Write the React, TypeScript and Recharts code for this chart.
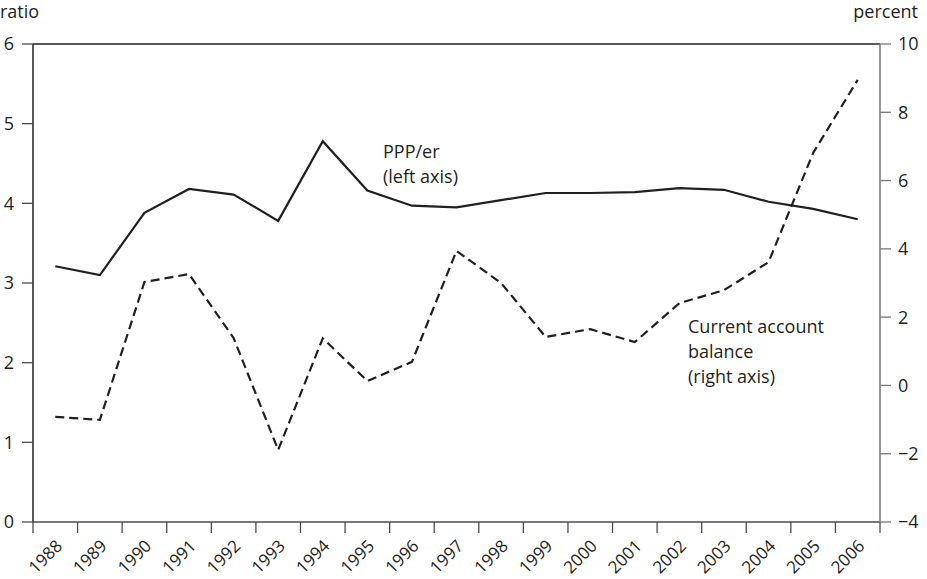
import React from 'react';
import { LineChart, Line, XAxis, YAxis, ReferenceLine } from 'recharts';

const years = ['1988','1989','1990','1991','1992','1993','1994','1995','1996','1997','1998','1999','2000','2001','2002','2003','2004','2005','2006'];
const pppEr = [3.21, 3.10, 3.88, 4.18, 4.11, 3.78, 4.78, 4.16, 3.97, 3.95, 4.04, 4.13, 4.13, 4.14, 4.19, 4.17, 4.02, 3.93, 3.80];
const currentAccount = [-0.92, -1.01, 3.03, 3.26, 1.39, -1.89, 1.38, 0.13, 0.69, 3.94, 3.0, 1.42, 1.65, 1.27, 2.41, 2.79, 3.61, 6.81, 8.95];
const leftTicks = [0, 1, 2, 3, 4, 5, 6];
const rightTicks = [-4, -2, 0, 2, 4, 6, 8, 10];

const data = years.map((year, i) => ({ year, ppp: pppEr[i], ca: currentAccount[i] }));

const W = 927;
const H = 579;
const PLOT_LEFT = 33;
const PLOT_RIGHT = 880;
const PLOT_TOP = 44;
const PLOT_BOTTOM = 522;
const BAND = (PLOT_RIGHT - PLOT_LEFT) / years.length;
const FONT = '"Open Sans", sans-serif';
const TEXT = '#231f20';

function XTick(props: any) {
  const { x, payload, index } = props;
  const half = BAND / 2;
  const ax = x + 8;
  const ay = PLOT_BOTTOM + 25;
  return (
    <g>
      <line x1={x - half} y1={PLOT_BOTTOM} x2={x - half} y2={PLOT_BOTTOM + 11} stroke="#4d4d4f" strokeWidth={1.3} />
      {index === years.length - 1 && (
        <line x1={x + half} y1={PLOT_BOTTOM} x2={x + half} y2={PLOT_BOTTOM + 11} stroke="#4d4d4f" strokeWidth={1.3} />
      )}
      <text x={ax} y={ay} transform={`rotate(-45, ${ax}, ${ay})`} textAnchor="end" fontFamily={FONT} fontSize={17} fill={TEXT}>
        {payload.value}
      </text>
    </g>
  );
}

const fmtMinus = (v: number) => String(v).replace('-', '\u2212');

export default function App() {
  return (
    <div style={{ position: 'absolute', left: 0, top: 0, width: W, height: H, background: '#fff' }}>
      <LineChart width={W} height={H} data={data} margin={{ top: PLOT_TOP, right: 0, bottom: 0, left: 0 }}>
        <XAxis
          dataKey="year"
          scale="band"
          interval={0}
          height={H - PLOT_BOTTOM}
          tickLine={false}
          tick={<XTick />}
          axisLine={{ stroke: '#4d4d4f', strokeWidth: 1.3 }}
        />
        <YAxis
          yAxisId="left"
          orientation="left"
          width={PLOT_LEFT}
          domain={[0, 6]}
          ticks={leftTicks}
          tickSize={11}
          tickMargin={8}
          axisLine={{ stroke: TEXT, strokeWidth: 1.5 }}
          tickLine={{ stroke: '#4d4d4f', strokeWidth: 1.3 }}
          tick={{ fontFamily: FONT, fontSize: 18, fill: TEXT }}
        />
        <YAxis
          yAxisId="right"
          orientation="right"
          width={W - PLOT_RIGHT}
          domain={[-4, 10]}
          ticks={rightTicks}
          tickSize={11}
          tickMargin={7}
          tickFormatter={fmtMinus}
          axisLine={{ stroke: '#77787b', strokeWidth: 1.5 }}
          tickLine={{ stroke: '#77787b', strokeWidth: 1.3 }}
          tick={{ fontFamily: FONT, fontSize: 18, fill: TEXT }}
        />
        <ReferenceLine yAxisId="left" y={6} stroke={TEXT} strokeWidth={1.3} />
        <Line
          yAxisId="left"
          dataKey="ppp"
          stroke={TEXT}
          strokeWidth={2.2}
          dot={false}
          isAnimationActive={false}
          strokeLinejoin="miter"
        />
        <Line
          yAxisId="right"
          dataKey="ca"
          stroke={TEXT}
          strokeWidth={2.2}
          strokeDasharray="9 5"
          dot={false}
          isAnimationActive={false}
        />
        <text x={0} y={18} fontFamily={FONT} fontSize={18} fill={TEXT}>ratio</text>
        <text x={918} y={18} textAnchor="end" fontFamily={FONT} fontSize={18} fill={TEXT}>percent</text>
        <text x={383} y={158} fontFamily={FONT} fontSize={18} fill={TEXT}>PPP/er</text>
        <text x={383} y={183} fontFamily={FONT} fontSize={18} fill={TEXT}>(left axis)</text>
        <text x={688} y={333} fontFamily={FONT} fontSize={18} fill={TEXT}>Current account</text>
        <text x={688} y={358} fontFamily={FONT} fontSize={18} fill={TEXT}>balance</text>
        <text x={688} y={383} fontFamily={FONT} fontSize={18} fill={TEXT}>(right axis)</text>
      </LineChart>
    </div>
  );
}
